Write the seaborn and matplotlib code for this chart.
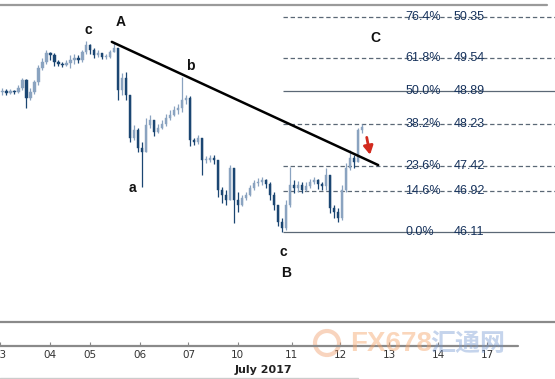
import numpy as np
import pandas as pd
import matplotlib
matplotlib.use("Agg")
import matplotlib.pyplot as plt
import seaborn as sns
from matplotlib.lines import Line2D
from matplotlib.patches import Ellipse

# ---------------- data ----------------
first_open = 48.87
closes = [48.89, 48.85, 48.89, 48.87, 48.95, 49.11, 48.75, 48.87, 49.07, 49.34,
          49.46, 49.64, 49.60, 49.46, 49.42, 49.40, 49.44, 49.50, 49.54, 49.50,
          49.66, 49.80, 49.70, 49.60, 49.64, 49.56, 49.56, 49.66, 49.74, 48.91,
          49.15, 48.81, 47.96, 48.12, 47.77, 47.69, 48.22, 48.32, 48.08, 48.16,
          48.24, 48.36, 48.42, 48.52, 48.56, 48.71, 48.75, 47.92, 47.88, 47.96,
          47.53, 47.53, 47.57, 47.53, 46.94, 46.84, 46.74, 47.37, 46.74, 46.64,
          46.78, 46.84, 46.98, 47.08, 47.10, 47.14, 47.06, 46.84, 46.64, 46.31,
          46.19, 46.64, 47.04, 46.98, 47.04, 46.94, 47.02, 47.10, 47.14, 47.06,
          47.02, 47.23, 46.58, 46.50, 46.39, 46.94, 47.37, 47.57, 47.49, 48.12,
          48.18]
highs = [48.95, 48.93, 48.93, 48.91, 49.01, 49.15, 49.13, 48.95, 49.11, 49.40,
         49.54, 49.70, 49.66, 49.64, 49.50, 49.46, 49.50, 49.60, 49.62, 49.60,
         49.70, 49.88, 49.82, 49.74, 49.70, 49.64, 49.62, 49.70, 49.84, 49.74,
         49.25, 49.27, 48.81, 48.22, 48.16, 47.88, 48.36, 48.42, 48.32, 48.24,
         48.32, 48.44, 48.52, 48.59, 48.63, 49.17, 48.81, 48.79, 47.96, 48.02,
         47.96, 47.61, 47.63, 47.63, 47.53, 47.00, 46.94, 47.43, 47.37, 46.90,
         46.84, 46.90, 47.04, 47.14, 47.17, 47.19, 47.15, 47.10, 46.90, 46.64,
         46.39, 46.74, 47.39, 47.14, 47.12, 47.10, 47.10, 47.15, 47.19, 47.15,
         47.10, 47.37, 47.23, 46.64, 46.58, 47.04, 47.47, 47.73, 47.63, 48.16,
         48.24]
lows = [48.81, 48.81, 48.83, 48.83, 48.85, 48.91, 48.56, 48.71, 48.83, 49.01,
        49.30, 49.42, 49.50, 49.38, 49.38, 49.36, 49.38, 49.34, 49.42, 49.44,
        49.46, 49.62, 49.62, 49.54, 49.56, 49.52, 49.52, 49.54, 49.66, 48.71,
        48.81, 48.71, 47.88, 47.92, 47.69, 47.00, 47.69, 48.16, 48.00, 48.06,
        48.14, 48.20, 48.32, 48.40, 48.44, 48.48, 48.63, 47.81, 47.83, 47.84,
        47.23, 47.47, 47.49, 47.45, 46.80, 46.68, 46.64, 46.74, 46.29, 46.50,
        46.62, 46.74, 46.82, 46.94, 47.02, 47.04, 46.98, 46.74, 46.54, 46.23,
        46.11, 46.15, 46.60, 46.88, 46.90, 46.88, 46.92, 46.98, 47.06, 46.96,
        46.94, 46.94, 46.48, 46.39, 46.31, 46.35, 46.90, 47.33, 47.37, 47.49,
        48.06]

tick_labels = ["03", "04", "05", "06", "07", "10", "11", "12", "13", "14", "17"]
tick_bars = [-0.6, 11.9, 21.9, 34.4, 46.6, 58.9, 72.4, 84.6, 96.9, 109.1, 121.4]
month_label = "July 2017"

fib_pct = ["76.4%", "61.8%", "50.0%", "38.2%", "23.6%", "14.6%", "0.0%"]
fib_vals = [50.35, 49.54, 48.89, 48.23, 47.42, 46.92, 46.11]
fib_solid = [False, False, True, False, False, False, True]

trend_bars = [27.4, 94.1]
trend_prices = [49.86, 47.43]

wave_labels = ["c", "A", "b", "a", "c", "B", "C"]

# ---------------- frame ----------------
sns.set_style("white")
W, H = 555, 379
fig = plt.figure(figsize=(W / 100, H / 100), dpi=100)
ax = fig.add_axes([0, (H - 346) / H, 1, (346 - 5) / H])
ax.set_xlim(-0.375, 138.375)
ax.set_ylim(43.861, 50.587)
for s in ax.spines.values():
    s.set_visible(False)
ax.set_facecolor("white")

df = pd.DataFrame({"bar": np.arange(len(closes)), "close": closes,
                   "high": highs, "low": lows})
df["open"] = [first_open] + closes[:-1]
up = df["close"] >= df["open"]
up_col, dn_col = "#8aa3c0", "#1b4672"
colors = np.where(up, up_col, dn_col)

ax.vlines(df["bar"], df["low"], df["high"], colors=colors, lw=0.9, zorder=3)
body_lo = np.minimum(df["open"], df["close"])
body_h = np.maximum((df["close"] - df["open"]).abs(), 0.012)
ax.bar(df["bar"], body_h, bottom=body_lo, width=0.62, color=colors,
       edgecolor=colors, linewidth=0.3, zorder=4)

# fibonacci levels
fib_start = 70.2
for pct, val, solid in zip(fib_pct, fib_vals, fib_solid):
    ax.hlines(val, fib_start, 138.4, colors="#5b6876",
              linestyles="-" if solid else (0, (3.5, 2.2)), lw=0.9, zorder=2)
    ax.text(100.9, val, pct, fontsize=9, color="#16325c", va="center",
            ha="left", family="Liberation Sans", zorder=5)
    ax.text(112.9, val, f"{val:.2f}", fontsize=9, color="#16325c",
            va="center", ha="left", family="Liberation Sans", zorder=5)

# trend line
tl = pd.DataFrame({"x": trend_bars, "y": trend_prices})
sns.lineplot(data=tl, x="x", y="y", ax=ax, color="black", lw=1.8, zorder=6)
ax.set_xlabel("")
ax.set_ylabel("")

# red arrow
ax.annotate("", xy=(92.2, 47.58), xytext=(91.1, 48.03),
            arrowprops=dict(arrowstyle="-|>,head_width=0.28,head_length=0.5",
                            color="#d22a1e", lw=2.0), zorder=7)

# wave labels
wave_pos = [(21.6, 50.09), (29.6, 50.25), (47.1, 49.38), (32.6, 46.98),
            (70.4, 45.71), (71.1, 45.30), (93.4, 49.94)]
for lab, (xx, yy) in zip(wave_labels, wave_pos):
    ax.text(xx, yy, lab, fontsize=10, fontweight="bold", color="#111111",
            ha="center", va="center", family="Liberation Sans", zorder=7)

# x axis ticks
ax.set_yticks([])
ax.set_xticks(tick_bars)
ax.set_xticklabels(tick_labels)
ax.tick_params(axis="x", direction="in", length=3, width=0.8, color="#888888",
               pad=3, labelsize=7.5, labelcolor="#333333", bottom=True)

# frame lines
fig.add_artist(Line2D([0, 547 / W], [1 - 5 / H] * 2, color="#9a9a9a", lw=1.6))
fig.add_artist(Line2D([0, 1], [1 - 322 / H] * 2, color="#8a8a8a", lw=1.6))
fig.add_artist(Line2D([0, 518 / W], [1 - 346 / H] * 2, color="#8a8a8a", lw=1.6))
fig.add_artist(Line2D([0, 358 / W], [1 - 378 / H] * 2, color="#cccccc", lw=1.0))

fig.text(263 / W, 1 - 370 / H, month_label, fontsize=8, fontweight="bold",
         color="#222222", ha="center", va="center")

# watermark
fig.add_artist(Ellipse((327 / W, 1 - 343 / H), 24 / W, 24 / H,
                       transform=fig.transFigure, fill=False,
                       edgecolor="#f0a070", lw=3, alpha=0.45))
fig.text(350 / W, 1 - 344 / H, "FX678", fontsize=20, fontweight="bold",
         color="#f5a46a", alpha=0.45, ha="left", va="center",
         family=["Liberation Sans Narrow", "Liberation Sans"])
fig.text(430 / W, 1 - 344 / H, "汇通网", fontsize=18, fontweight="bold",
         color="#6f95d0", alpha=0.4, ha="left", va="center",
         family=["Noto Sans CJK SC", "DejaVu Sans"])

fig.savefig("out.png", dpi=100, facecolor="white")
